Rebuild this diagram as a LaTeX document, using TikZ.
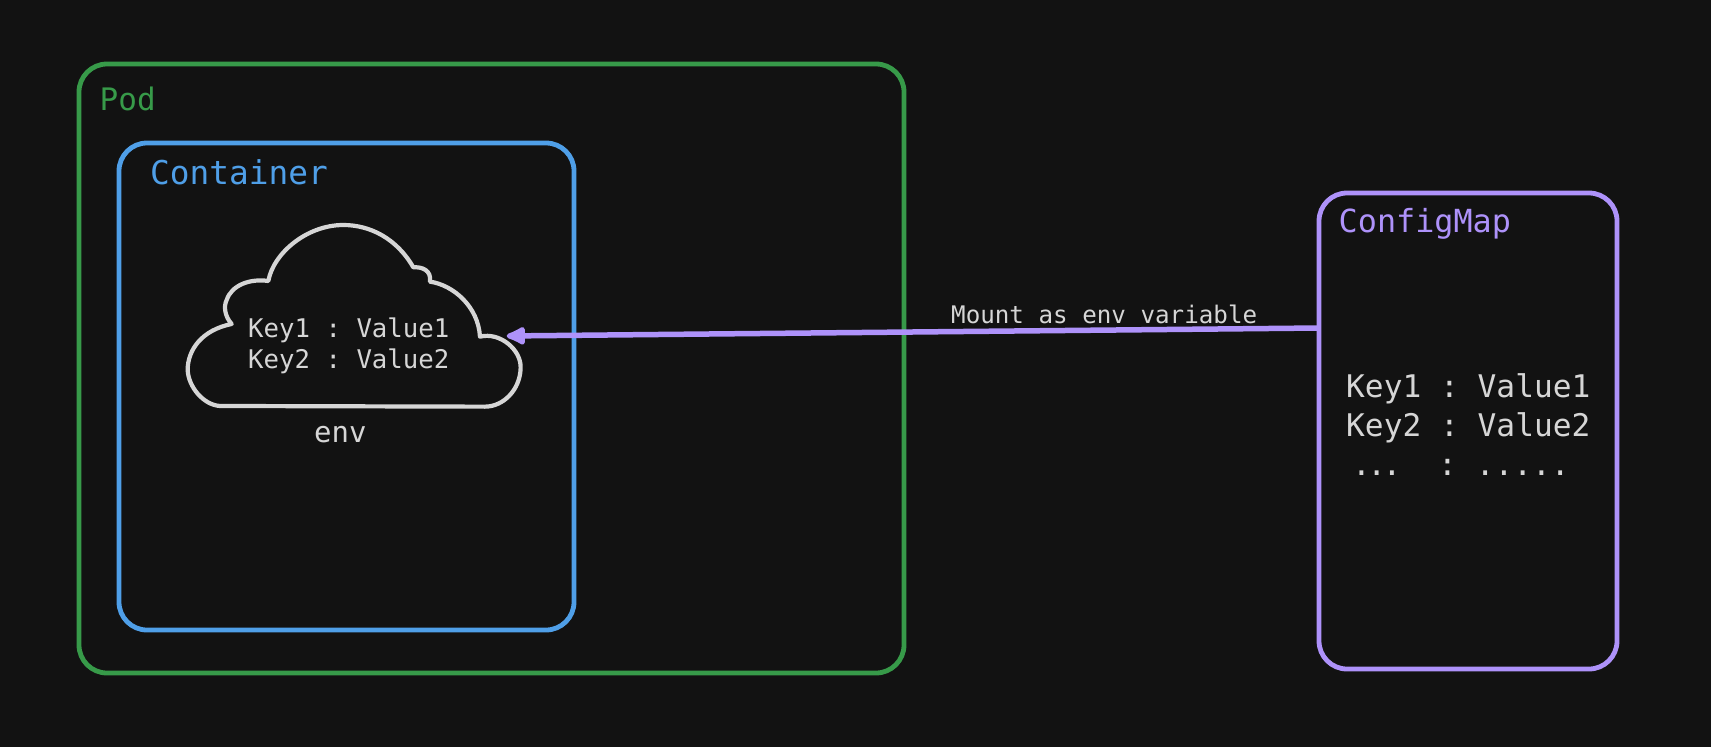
\documentclass[tikz,border=0pt]{standalone}
\usepackage{fontspec}
\setmonofont{DejaVu Sans Mono}
\usepackage{tikz}
\usetikzlibrary{calc,arrows.meta}
\definecolor{canvasbg}{HTML}{121212}
\definecolor{podgreen}{HTML}{379A49}
\definecolor{containerblue}{HTML}{4F9FE8}
\definecolor{mappurple}{HTML}{AE92FA}
\definecolor{plaintext}{HTML}{D6D6D6}
\tikzset{
  framebox/.style={draw, line width=4.8pt, rounded corners=28pt, inner sep=0pt, outer sep=0pt},
  caption/.style={anchor=base west, inner sep=0pt, font=\ttfamily\fontsize{#1}{#1}\selectfont},
  pairs/.style={anchor=base west, inner sep=0pt, align=left, text=plaintext, font=\ttfamily\fontsize{#1}{#1}\selectfont},
}
\begin{document}
\begin{tikzpicture}[x=1pt,y=-1pt]
  \fill[canvasbg] (0,0) rectangle (1711,747);
  \useasboundingbox (0,0) rectangle (1711,747);

  \node[framebox, podgreen, minimum width=825pt, minimum height=609pt] (pod) at (491.5,368.5) {};
  \node[framebox, containerblue, minimum width=455pt, minimum height=487pt] (container) at (346.5,386.5) {};
  \node[framebox, mappurple, minimum width=298pt, minimum height=476pt] (configmap) at (1468,431) {};

  \node[caption=31, text=podgreen] (podlabel) at (99.5,110) {Pod};
  \node[caption=32.8, text=containerblue] (containerlabel) at (150,184) {Container};
  \node[caption=31.8, text=mappurple] (configmaplabel) at (1338.5,232) {ConfigMap};

  \begin{scope}[shift={(170,210)},scale=0.3333]
    \draw[plaintext, line width=4.2pt, line join=round]
      (185,342) .. controls (165,320) and (160,290) .. (170,270)
      .. controls (185,225) and (240,205) .. (295,213)
      .. controls (310,130) and (410,45) .. (520,45)
      .. controls (600,45) and (680,85) .. (730,172)
      .. controls (755,170) and (785,180) .. (780,215)
      .. controls (850,225) and (925,290) .. (930,380)
      .. controls (990,365) and (1055,420) .. (1052,475)
      .. controls (1050,540) and (1000,590) .. (945,590)
      -- (150,588)
      .. controls (100,585) and (55,530) .. (53,480)
      .. controls (53,420) and (95,360) .. (185,342) -- cycle;
    \coordinate (cloudnotch) at (1010,378);
  \end{scope}

  \node[pairs=25.7] (cloudkey1) at (248,337.5) {Key1 : Value1};
  \node[pairs=25.7] (cloudkey2) at (248,368) {Key2 : Value2};
  \node[pairs=29] (envlabel) at (314,442) {env};

  \node[pairs=31.2] (mapkey1) at (1346,397.5) {Key1 : Value1};
  \node[pairs=31.2] (mapkey2) at (1346,436.5) {Key2 : Value2};
  \node[pairs=31.2] (mapkey3) at (1346,475.5) {\makebox[92pt][l]{\kern6pt.\kern-3.6pt.\kern-3.6pt.}: .....};

  \draw[mappurple, line width=5.5pt, -{Latex[round,length=24pt,width=22pt]}]
    ($(configmap.west)+(0,-103)$) -- (cloudnotch);
  \node[pairs=24.2] (mountlabel) at (951,323) {Mount as env variable};
\end{tikzpicture}
\end{document}
